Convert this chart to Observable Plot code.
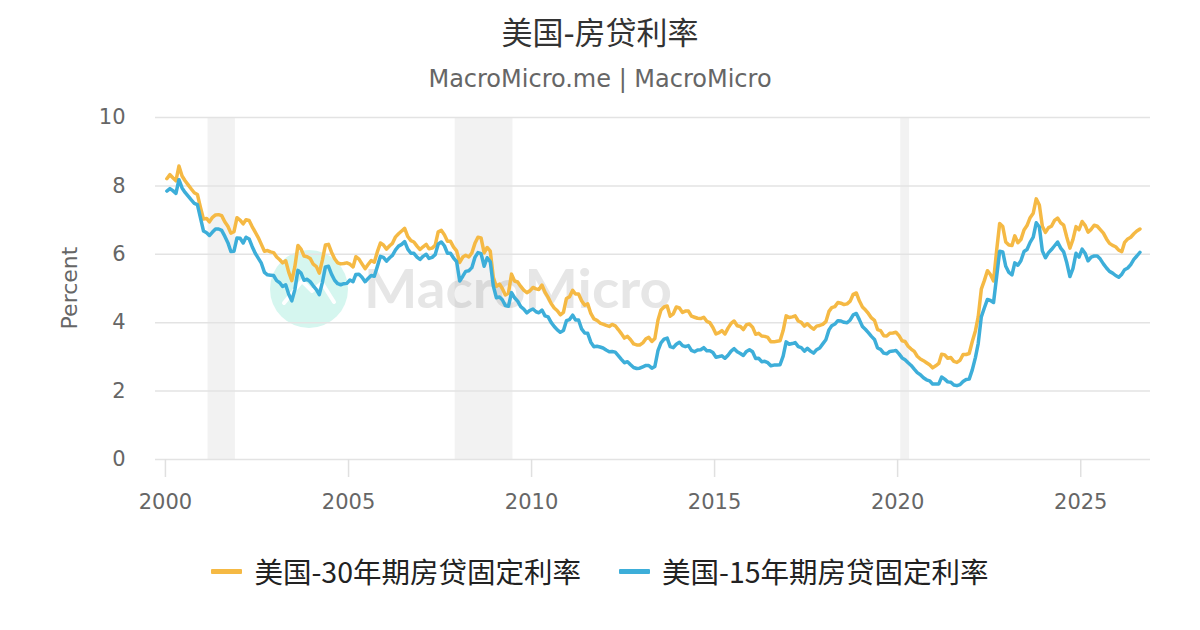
<!DOCTYPE html>
<html>
<head>
<meta charset="utf-8">
<script src="https://cdn.jsdelivr.net/npm/d3@7"></script>
<script src="https://cdn.jsdelivr.net/npm/@observablehq/plot@0.6"></script>
<style>
  html, body { margin: 0; padding: 0; background: #fff; }
  #page { position: relative; width: 1200px; height: 630px; overflow: hidden; font-family: "DejaVu Sans", "Noto Sans CJK SC", sans-serif; }
  #title { position: absolute; left: 0; width: 1200px; top: 14px; text-align: center; font-size: 31px; line-height: 38px; color: #333; }
  #subtitle { position: absolute; left: 0; width: 1200px; top: 64px; text-align: center; font-size: 24px; line-height: 30px; color: #666; }
  #watermark { position: absolute; left: 0; top: 0; }
  #chart { position: absolute; left: 0; top: 100px; }
  #ylabel { position: absolute; left: 70px; top: 288px; transform: translate(-50%, -50%) rotate(-90deg); font-size: 22px; line-height: 26px; color: #666; white-space: nowrap; }
  #legend { position: absolute; left: 0; width: 1200px; top: 552px; display: flex; justify-content: center; align-items: center; font-family: "Noto Sans CJK SC", sans-serif; font-size: 28.5px; line-height: 38px; color: #222; }
  .item { display: flex; align-items: center; }
  .item + .item { margin-left: 38px; }
  .swatch { width: 31px; height: 5px; margin-right: 12px; border-radius: 1px; }
</style>
</head>
<body>
<div id="page">
  <div id="title">美国-房贷利率</div>
  <div id="subtitle">MacroMicro.me | MacroMicro</div>
  <svg id="watermark" width="1200" height="630">
    <circle cx="309" cy="289" r="39" fill="#d5f6ef"></circle>
    <polyline points="284,303 302,281 312,291 322,283 334,302" fill="none" stroke="#fff" stroke-width="4" stroke-linejoin="round" stroke-linecap="round"></polyline>
    <text x="364" y="308" font-family="Lato, 'Open Sans', sans-serif" font-weight="700" font-size="54" fill="#e6e6e6" textLength="308" lengthAdjust="spacingAndGlyphs">MacroMicro</text>
  </svg>
  <div id="chart"></div>
  <div id="ylabel">Percent</div>
  <div id="legend">
    <div class="item"><div class="swatch" style="background:#f5b944"></div><span>美国-30年期房贷固定利率</span></div>
    <div class="item"><div class="swatch" style="background:#3daed9"></div><span>美国-15年期房贷固定利率</span></div>
  </div>
</div>
<script>
// Monthly values, starting January 2000
const startYear = 2000;
const seriesNames = ["美国-30年期房贷固定利率", "美国-15年期房贷固定利率"];
const seriesColors = ["#f5b944", "#3daed9"];

const rate30 = [
  8.21, 8.33, 8.24, 8.15, 8.58, 8.29, 8.15, 8.03, 7.91, 7.80, 7.75, 7.38, // 2000
  7.03, 7.05, 6.95, 7.08, 7.15, 7.16, 7.13, 6.95, 6.82, 6.62, 6.66, 7.07, // 2001
  7.00, 6.89, 7.01, 6.99, 6.81, 6.65, 6.49, 6.29, 6.09, 6.11, 6.07, 6.05, // 2002
  5.92, 5.84, 5.75, 5.81, 5.48, 5.23, 5.63, 6.26, 6.15, 5.95, 5.93, 5.88, // 2003
  5.71, 5.64, 5.45, 5.83, 6.27, 6.29, 6.06, 5.87, 5.75, 5.72, 5.73, 5.75, // 2004
  5.71, 5.63, 5.93, 5.86, 5.72, 5.58, 5.70, 5.82, 5.77, 6.07, 6.33, 6.27, // 2005
  6.15, 6.25, 6.32, 6.51, 6.60, 6.68, 6.76, 6.52, 6.40, 6.36, 6.24, 6.14, // 2006
  6.22, 6.29, 6.16, 6.18, 6.26, 6.66, 6.70, 6.57, 6.38, 6.38, 6.21, 6.10, // 2007
  5.76, 5.92, 5.97, 5.92, 6.04, 6.32, 6.50, 6.48, 6.04, 6.20, 6.09, 5.33, // 2008
  5.06, 5.13, 5.00, 4.81, 4.86, 5.42, 5.22, 5.19, 5.06, 4.95, 4.88, 4.93, // 2009
  5.03, 4.99, 4.97, 5.10, 4.89, 4.74, 4.56, 4.43, 4.35, 4.23, 4.30, 4.71, // 2010
  4.76, 4.95, 4.84, 4.84, 4.64, 4.51, 4.55, 4.27, 4.11, 4.07, 3.99, 3.96, // 2011
  3.92, 3.89, 3.95, 3.91, 3.80, 3.68, 3.55, 3.60, 3.50, 3.38, 3.35, 3.35, // 2012
  3.41, 3.53, 3.57, 3.45, 3.54, 4.07, 4.37, 4.46, 4.49, 4.19, 4.26, 4.46, // 2013
  4.43, 4.30, 4.34, 4.34, 4.19, 4.16, 4.13, 4.12, 4.16, 4.04, 4.00, 3.86, // 2014
  3.67, 3.71, 3.77, 3.67, 3.84, 3.98, 4.05, 3.91, 3.89, 3.80, 3.94, 3.96, // 2015
  3.87, 3.66, 3.69, 3.61, 3.60, 3.57, 3.44, 3.44, 3.46, 3.47, 3.77, 4.20, // 2016
  4.15, 4.17, 4.20, 4.05, 4.01, 3.90, 3.97, 3.88, 3.81, 3.90, 3.92, 3.95, // 2017
  4.03, 4.33, 4.44, 4.47, 4.59, 4.57, 4.53, 4.55, 4.63, 4.83, 4.87, 4.64, // 2018
  4.46, 4.37, 4.27, 4.14, 4.07, 3.80, 3.77, 3.62, 3.61, 3.69, 3.70, 3.72, // 2019
  3.62, 3.47, 3.45, 3.31, 3.23, 3.16, 3.02, 2.94, 2.89, 2.83, 2.77, 2.68, // 2020
  2.74, 2.81, 3.08, 3.06, 2.96, 2.98, 2.87, 2.84, 2.90, 3.07, 3.07, 3.10, // 2021
  3.45, 3.76, 4.17, 4.98, 5.23, 5.52, 5.41, 5.22, 6.11, 6.90, 6.81, 6.36, // 2022
  6.27, 6.26, 6.54, 6.34, 6.43, 6.71, 6.84, 7.07, 7.20, 7.62, 7.44, 6.82, // 2023
  6.64, 6.78, 6.82, 6.99, 7.06, 6.92, 6.85, 6.50, 6.18, 6.43, 6.81, 6.72, // 2024
  6.96, 6.84, 6.65, 6.73, 6.85, 6.82, 6.72, 6.62, 6.45, 6.32, 6.26, 6.22, // 2025
  6.12, 6.08, 6.35, 6.45, 6.50, 6.60, 6.68, 6.74                          // 2026
];

const rate15 = [
  7.85, 7.92, 7.86, 7.78, 8.18, 7.94, 7.81, 7.70, 7.59, 7.49, 7.45, 7.07, // 2000
  6.68, 6.63, 6.55, 6.65, 6.74, 6.74, 6.70, 6.53, 6.34, 6.08, 6.09, 6.48, // 2001
  6.47, 6.33, 6.50, 6.45, 6.23, 6.03, 5.89, 5.74, 5.47, 5.40, 5.39, 5.38, // 2002
  5.23, 5.17, 5.06, 5.11, 4.83, 4.64, 4.96, 5.53, 5.45, 5.24, 5.27, 5.20, // 2003
  5.08, 4.97, 4.82, 5.18, 5.63, 5.65, 5.42, 5.24, 5.14, 5.11, 5.14, 5.15, // 2004
  5.25, 5.20, 5.41, 5.42, 5.33, 5.20, 5.29, 5.38, 5.36, 5.64, 5.94, 5.91, // 2005
  5.80, 5.90, 5.97, 6.13, 6.24, 6.29, 6.37, 6.15, 6.03, 6.03, 5.92, 5.85, // 2006
  5.94, 6.00, 5.88, 5.91, 5.99, 6.30, 6.36, 6.25, 6.03, 6.03, 5.89, 5.79, // 2007
  5.22, 5.36, 5.50, 5.52, 5.61, 5.91, 6.05, 6.02, 5.65, 5.90, 5.78, 5.08, // 2008
  4.73, 4.75, 4.67, 4.50, 4.48, 4.88, 4.73, 4.63, 4.47, 4.40, 4.29, 4.36, // 2009
  4.40, 4.32, 4.29, 4.37, 4.20, 4.17, 4.01, 3.89, 3.79, 3.72, 3.77, 4.06, // 2010
  4.09, 4.22, 4.08, 4.08, 3.82, 3.70, 3.69, 3.43, 3.30, 3.31, 3.29, 3.26, // 2011
  3.20, 3.15, 3.16, 3.14, 3.04, 2.93, 2.83, 2.86, 2.77, 2.69, 2.66, 2.67, // 2012
  2.71, 2.75, 2.75, 2.67, 2.72, 3.18, 3.41, 3.52, 3.55, 3.30, 3.27, 3.37, // 2013
  3.43, 3.33, 3.30, 3.33, 3.19, 3.15, 3.20, 3.21, 3.27, 3.18, 3.18, 3.13, // 2014
  2.99, 3.01, 3.03, 2.96, 3.05, 3.17, 3.24, 3.15, 3.10, 3.04, 3.16, 3.21, // 2015
  3.15, 2.95, 2.96, 2.86, 2.87, 2.83, 2.74, 2.76, 2.76, 2.77, 3.02, 3.44, // 2016
  3.37, 3.39, 3.42, 3.30, 3.27, 3.17, 3.25, 3.17, 3.11, 3.21, 3.26, 3.38, // 2017
  3.50, 3.79, 3.91, 3.96, 4.06, 4.05, 4.01, 4.00, 4.08, 4.23, 4.27, 4.09, // 2018
  3.89, 3.80, 3.71, 3.60, 3.51, 3.26, 3.22, 3.11, 3.09, 3.16, 3.17, 3.19, // 2019
  3.09, 2.97, 2.92, 2.83, 2.75, 2.64, 2.54, 2.48, 2.39, 2.33, 2.30, 2.21, // 2020
  2.21, 2.21, 2.41, 2.35, 2.27, 2.26, 2.18, 2.16, 2.19, 2.28, 2.34, 2.35, // 2021
  2.62, 2.98, 3.39, 4.17, 4.43, 4.68, 4.65, 4.59, 5.35, 6.09, 6.07, 5.65, // 2022
  5.47, 5.40, 5.75, 5.68, 5.81, 6.08, 6.14, 6.35, 6.50, 6.92, 6.80, 6.10, // 2023
  5.90, 6.05, 6.14, 6.25, 6.36, 6.18, 6.07, 5.75, 5.35, 5.58, 6.03, 5.92, // 2024
  6.15, 6.02, 5.81, 5.92, 5.95, 5.95, 5.86, 5.72, 5.60, 5.50, 5.45, 5.38, // 2025
  5.33, 5.42, 5.55, 5.60, 5.70, 5.85, 5.95, 6.06                          // 2026
];

// Recession periods (shaded)
const recessionStarts = ["2001-03-01", "2007-12-01", "2020-02-01"];
const recessionEnds   = ["2001-11-30", "2009-06-30", "2020-04-30"];

const xTickYears = [2000, 2005, 2010, 2015, 2020, 2025];
const yTicks = [0, 2, 4, 6, 8, 10];

const toRows = (vals) => vals.map((v, i) => ({date: new Date(Date.UTC(startYear, i, 15)), value: v}));
const rows30 = toRows(rate30);
const rows15 = toRows(rate15);
const recessions = recessionStarts.map((s, i) => ({start: new Date(s), end: new Date(recessionEnds[i])}));
const xTicks = xTickYears.map(y => new Date(Date.UTC(y, 0, 1)));

const chart = Plot.plot({
  width: 1200,
  height: 430,
  marginLeft: 155,
  marginRight: 50,
  marginTop: 17,
  marginBottom: 71,
  style: {background: "transparent", fontFamily: "'DejaVu Sans', 'Noto Sans CJK SC', sans-serif", fontSize: "21px", color: "#666"},
  x: {type: "utc", domain: [new Date(Date.UTC(1999, 8, 24)), new Date(Date.UTC(2026, 10, 28))]},
  y: {domain: [0, 10]},
  marks: [
    Plot.rect(recessions, {x1: "start", x2: "end", fill: "#000", fillOpacity: 0.05}),
    Plot.gridY(yTicks, {stroke: "#e3e3e3", strokeOpacity: 1, strokeWidth: 1.5}),
    Plot.axisX(xTicks, {tickFormat: d => String(d.getUTCFullYear()), tickSize: 18, tickPadding: 17, stroke: "#e0e0e0", strokeOpacity: 1, strokeWidth: 1.5, fill: "#666", fontSize: 21, label: null}),
    Plot.axisY(yTicks, {tickSize: 0, tickPadding: 30, fill: "#666", fontSize: 21, label: null}),
    Plot.lineY(rows30, {x: "date", y: "value", stroke: seriesColors[0], strokeWidth: 3.5, strokeLinejoin: "round"}),
    Plot.lineY(rows15, {x: "date", y: "value", stroke: seriesColors[1], strokeWidth: 3.5, strokeLinejoin: "round"})
  ]
});
document.getElementById("chart").appendChild(chart);
</script>
</body>
</html>
